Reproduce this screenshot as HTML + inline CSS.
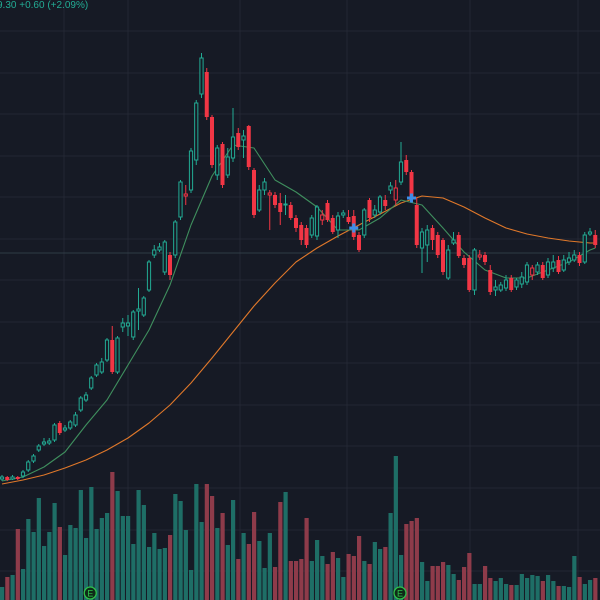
<!DOCTYPE html>
<html><head><meta charset="utf-8">
<style>
html,body{margin:0;padding:0;background:#161a25;width:600px;height:600px;overflow:hidden}
svg{display:block}
text{font-family:"Liberation Sans",sans-serif}
</style></head>
<body>
<svg id="chart" width="600" height="600" xmlns="http://www.w3.org/2000/svg">
<rect x="0" y="0" width="600" height="600" fill="#161a25"/>
<g id="grid"></g>
<g id="vol"></g>
<g id="ma"></g>
<g id="candles"></g>
<g id="marks"></g>
<text x="-3" y="8" font-size="10" fill="#22ab94">9.30  +0.60 (+2.09%)</text>
</svg>
<script>
const opens=[12.1,12.3,12.1,12.3,12.4,13.0,13.9,15.0,15.6,15.7,16.0,17.7,17.0,17.2,17.5,19.0,20.0,21.2,22.5,22.8,24.0,26.0,22.8,27.3,27.4,26.3,28.9,28.5,31.0,34.5,35.0,32.8,34.5,34.5,38.3,40.4,41.0,44.0,50.6,52.8,48.3,42.5,45.6,42.5,44.2,46.7,46.0,47.4,43.0,39.0,41.0,40.5,40.5,39.7,39.5,39.5,38.2,37.5,37.2,36.5,36.4,38.0,39.7,38.2,37.0,38.5,38.3,38.4,36.5,36.5,40.0,38.5,38.8,40.0,41.0,40.0,41.8,44.0,42.8,39.5,35.2,35.5,37.2,36.5,36.0,32.2,35.7,36.5,34.2,34.2,31.0,34.3,34.5,33.0,31.0,31.0,31.2,32.2,31.3,31.6,31.8,32.5,32.8,33.5,32.5,33.2,34.0,33.0,33.8,34.0,34.5,33.8,36.6,36.5];
const closes=[12.3,12.0,12.3,12.1,12.8,13.8,14.4,15.4,15.8,15.9,17.5,16.7,17.2,17.8,18.5,20.2,20.5,22.2,23.5,23.8,26.0,22.8,26.2,27.7,27.7,28.8,29.1,30.2,33.8,35.0,35.3,35.8,32.5,37.8,41.8,40.6,44.9,49.7,54.2,48.3,43.5,45.2,41.5,44.3,46.3,45.3,46.4,43.3,38.5,41.0,41.8,40.7,39.5,38.8,39.6,38.2,37.2,36.0,35.5,38.2,39.3,38.5,38.0,36.8,38.4,38.7,37.8,36.3,35.0,39.0,38.2,39.0,40.3,39.4,41.4,41.2,43.8,42.8,40.2,35.5,36.8,37.0,36.0,34.5,32.8,35.0,36.0,34.4,33.5,31.0,35.0,34.5,33.8,30.8,31.3,31.5,32.0,31.0,32.0,32.3,33.5,33.2,33.5,32.2,33.8,33.8,32.8,34.0,34.2,34.5,33.7,36.5,36.8,35.5];
const highs=[12.5,12.4,12.5,12.4,13.0,14.0,14.6,15.6,16.2,16.2,17.7,17.9,17.5,18.0,18.8,20.4,20.8,22.4,23.7,24.2,26.2,27.4,26.4,28.2,28.5,29.0,31.2,30.4,34.0,35.5,35.7,36.0,34.8,38.0,42.0,41.5,45.2,50.0,54.7,53.2,48.5,45.5,45.8,45.2,49.2,47.2,47.0,47.5,43.2,41.5,42.2,41.0,40.8,40.7,40.5,39.8,38.5,37.8,37.5,38.5,39.5,39.0,40.0,38.5,38.8,39.0,39.0,39.0,36.8,39.2,40.2,39.5,40.5,40.5,41.8,42.0,45.8,44.5,43.0,40.2,37.2,37.5,37.5,36.8,36.2,35.5,36.8,36.8,34.5,34.5,35.2,35.0,34.8,33.5,32.0,31.8,32.5,32.5,32.2,32.8,33.8,33.5,33.8,33.8,34.2,34.5,34.4,34.5,34.8,35.0,34.8,36.8,37.2,37.0];
const lows=[11.9,11.9,12.0,12.0,12.2,12.8,13.7,14.8,15.4,15.5,15.8,16.5,16.8,17.0,17.3,18.8,19.8,21.0,22.3,22.6,23.8,22.6,22.6,26.8,26.4,26.0,27.0,28.3,30.8,34.2,34.8,32.5,32.0,34.2,38.0,39.5,40.7,43.5,50.2,48.0,43.2,42.0,41.2,42.2,43.8,45.0,44.2,43.0,38.2,38.8,40.5,37.0,39.2,37.5,38.5,38.0,36.8,35.5,35.2,36.2,36.0,37.5,37.8,36.6,36.2,38.2,37.6,36.0,34.8,36.2,37.8,38.2,38.5,39.0,40.6,39.5,41.5,42.5,40.0,35.2,32.7,33.8,35.0,34.2,32.5,32.0,35.5,34.2,33.2,30.8,30.5,34.0,33.5,30.5,30.4,30.8,30.9,30.8,31.0,31.2,31.5,32.0,32.5,32.0,32.2,32.8,32.6,32.8,33.5,33.8,33.4,33.6,36.4,35.2];
const volumes=[13,23,25,71,31,81,68,102,54,68,97,73,45,75,72,110,62,113,71,82,87,128,109,84,84,56,110,95,53,67,51,52,65,106,99,70,30,116,78,116,104,72,87,55,100,41,67,56,88,59,32,67,33,98,108,39,39,41,82,39,60,44,36,48,42,23,46,44,64,39,36,58,51,53,87,144,45,76,79,82,38,19,34,34,38,35,26,20,33,47,16,16,34,22,19,22,16,15,15,26,22,25,24,19,25,19,14,14,13,44,23,16,20,22];
const maIdx=[0,4,8,12,16,20,24,28,32,36,40,44,48,52,56,60,64,68,72,76,80,84,88,92,96,100,104,108,112,113];
const maFast=[11.9,12.3,13.3,14.8,17.5,20.0,23.5,27.0,31.5,37.5,42.4,45.5,45.2,42.0,40.8,39.3,37.0,37.0,38.2,40.0,39.5,37.2,34.8,33.0,32.2,32.2,33.0,33.8,35.0,35.2];
const maSlow=[11.6,12.0,12.5,13.2,14.0,15.0,16.2,17.7,19.5,21.7,24.2,26.8,29.4,31.7,33.8,35.2,36.4,37.5,38.6,39.7,40.4,40.2,39.3,38.2,37.2,36.6,36.2,35.9,35.7,35.7];
const gridY=[31,73,114,156,197,239,280,322,363,405,446,488,530,571];
const gridX=[64,128,240,347,470,578];
const crossIdx=[67,78];
const crossPrice=[37.2,40.2];
const earningsIdx=[17,76];

const NS='http://www.w3.org/2000/svg';
const X0=2, STEP=5.25;
const xS=i=>X0+STEP*i;
const yS=p=>600-10*p;
const vS=v=>600-v;
function mk(tag,attrs,parent){const e=document.createElementNS(NS,tag);for(const k in attrs)e.setAttribute(k,attrs[k]);parent.appendChild(e);return e;}
const G=document.getElementById('grid'),V=document.getElementById('vol'),M=document.getElementById('ma'),C=document.getElementById('candles'),K=document.getElementById('marks');
gridY.forEach(y=>{const l=mk('line',{x1:0,x2:600,y1:y,y2:y,stroke:'#232734','stroke-width':1},G);

});
gridX.forEach(x=>{const l=mk('line',{x1:x,x2:x,y1:0,y2:600,stroke:'#232734','stroke-width':1},G);

});
const cl=mk('line',{x1:0,x2:600,y1:253,y2:253,stroke:'#2f3c45','stroke-width':1},G);



const UP='#22ab94',DN='#f23645';
volumes.forEach((v,i)=>{const up=closes[i]>=opens[i];
const r=mk('rect',{x:xS(i)-2,y:vS(v),width:4.2,height:v,fill:up?'#1e6e66':'#8e3b4a'},V);

});

function line(arr,color,name){let d='';arr.forEach((p,k)=>{d+=(k?'L':'M')+xS(maIdx[k]).toFixed(1)+','+yS(p).toFixed(1);});
const pth=mk('path',{d:d,fill:'none',stroke:color,'stroke-width':1.1,'stroke-linejoin':'round'},M);

}
line(maSlow,'#e0782a','slow-moving-average');
line(maFast,'#3f8f5e','fast-moving-average');

opens.forEach((o,i)=>{const c=closes[i];const prev=i?closes[i-1]:o;
const col=c>=prev?UP:DN;const hollow=c>o;const x=xS(i);
const g=mk('g',{},C);


mk('line',{x1:x,x2:x,y1:yS(highs[i]),y2:yS(lows[i]),stroke:col,'stroke-width':1},g);
const top=yS(Math.max(o,c)),h=Math.max(1,Math.abs(yS(o)-yS(c)));
if(hollow){mk('rect',{x:x-1.6,y:top,width:3.2,height:h,fill:'#161a25',stroke:col,'stroke-width':1},g);}
else{mk('rect',{x:x-2,y:top,width:4,height:h,fill:col},g);}});

crossIdx.forEach((ci,k)=>{const x=xS(ci),y=yS(crossPrice[k]);
const g=mk('g',{},K);


mk('rect',{x:x-4.5,y:y-1.5,width:9,height:3,fill:'#3d8ee8'},g);
mk('rect',{x:x-1.5,y:y-4.5,width:3,height:9,fill:'#3d8ee8'},g);});
earningsIdx.forEach(ei=>{const x=xS(ei)-1;
const g=mk('g',{},K);


mk('circle',{cx:x,cy:593,r:6,fill:'#0f2a18',stroke:'#2ec24a','stroke-width':1.3},g);
const t=mk('text',{x:x,y:596.5,'font-size':9,fill:'#2ec24a','text-anchor':'middle'},g);t.textContent='E';});
</script>
</body></html>
